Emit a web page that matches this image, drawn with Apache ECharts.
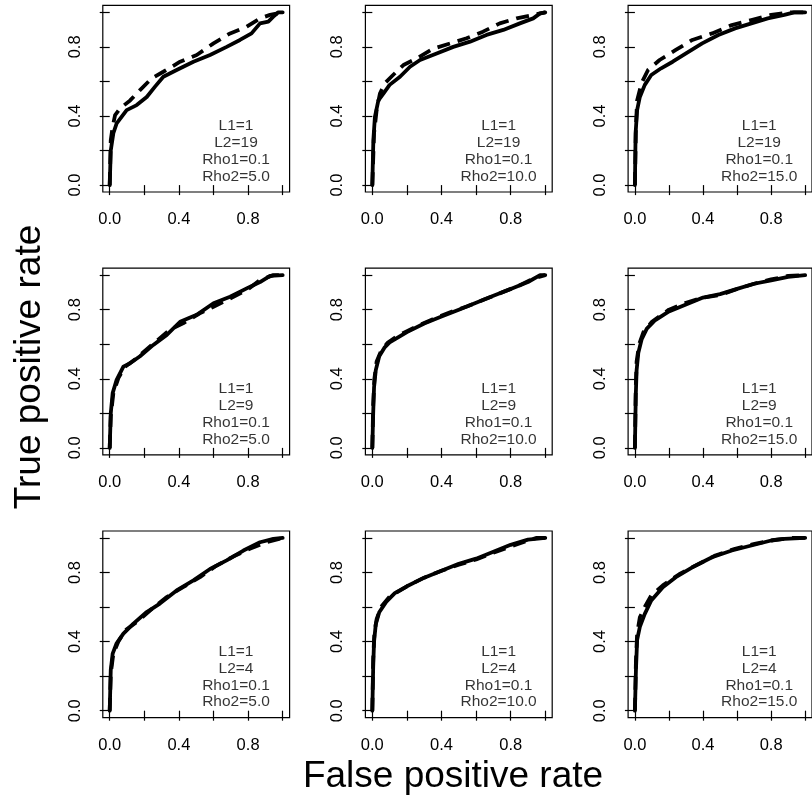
<!DOCTYPE html>
<html>
<head>
<meta charset="utf-8">
<script src="https://cdn.jsdelivr.net/npm/echarts@6/dist/echarts.min.js"></script>
<style>
html,body{margin:0;padding:0;background:#fff;}
#chart{width:812px;height:803px;}
</style>
</head>
<body>
<div id="chart"></div>
<script>
// ---------------- DATA ----------------
const xTitle = "False positive rate";
const yTitle = "True positive rate";
const tickValues = [0, 0.2, 0.4, 0.6, 0.8, 1.0];
const tickLabels = [0, 0.4, 0.8];
const rowL2 = ["19", "9", "4"];
const colRho2 = ["5.0", "10.0", "15.0"];
const L1 = "1";
const Rho1 = "0.1";

// ROC curves [fpr, tpr], row-major panels (row1: L2=19, row2: L2=9, row3: L2=4)
const p1Solid = [[0,0],[0.006,0.2],[0.021,0.3],[0.04,0.357],[0.098,0.434],[0.156,0.463],[0.214,0.51],[0.262,0.57],[0.31,0.627],[0.387,0.666],[0.484,0.714],[0.58,0.753],[0.676,0.8],[0.753,0.84],[0.82,0.878],[0.869,0.936],[0.917,0.946],[0.946,0.975],[0.975,1],[1,1]];
const p1Dashed = [[0,0],[0.006,0.26],[0.017,0.338],[0.031,0.405],[0.06,0.444],[0.118,0.49],[0.175,0.55],[0.243,0.618],[0.31,0.656],[0.407,0.714],[0.503,0.753],[0.6,0.82],[0.696,0.878],[0.792,0.917],[0.869,0.965],[0.927,0.985],[1,1]];
const p2Solid = [[0,0],[0.006,0.26],[0.015,0.395],[0.035,0.49],[0.064,0.53],[0.1,0.58],[0.16,0.627],[0.218,0.685],[0.276,0.724],[0.372,0.762],[0.468,0.8],[0.565,0.83],[0.66,0.869],[0.757,0.898],[0.853,0.936],[0.93,0.965],[0.97,0.994],[1,1]];
const p2Dashed = [[0,0],[0.01,0.3],[0.025,0.434],[0.044,0.53],[0.073,0.59],[0.12,0.637],[0.18,0.695],[0.256,0.733],[0.353,0.79],[0.45,0.82],[0.545,0.85],[0.64,0.888],[0.737,0.936],[0.834,0.965],[0.93,0.985],[1,1]];
const p3Solid = [[0,0],[0.004,0.3],[0.013,0.434],[0.029,0.51],[0.058,0.58],[0.096,0.637],[0.154,0.676],[0.222,0.714],[0.3,0.762],[0.395,0.82],[0.49,0.869],[0.588,0.907],[0.684,0.936],[0.78,0.965],[0.877,0.985],[0.935,1],[1,1]];
const p3Dashed = [[0,0],[0.006,0.338],[0.013,0.49],[0.039,0.59],[0.077,0.666],[0.145,0.724],[0.24,0.782],[0.337,0.84],[0.453,0.878],[0.569,0.926],[0.684,0.955],[0.8,0.985],[0.915,1],[1,1]];
const p4Solid = [[0,0],[0.006,0.2],[0.017,0.317],[0.04,0.394],[0.079,0.47],[0.118,0.49],[0.175,0.53],[0.252,0.596],[0.33,0.654],[0.407,0.73],[0.503,0.77],[0.6,0.837],[0.696,0.875],[0.792,0.923],[0.869,0.96],[0.927,0.996],[1,1]];
const p4Dashed = [[0,0],[0.006,0.183],[0.021,0.317],[0.05,0.404],[0.089,0.47],[0.156,0.52],[0.233,0.587],[0.347,0.683],[0.424,0.721],[0.52,0.779],[0.6,0.817],[0.696,0.865],[0.792,0.913],[0.869,0.971],[0.946,1],[1,1]];
const p5Solid = [[0,0],[0.005,0.2],[0.01,0.35],[0.02,0.45],[0.04,0.53],[0.07,0.58],[0.1,0.61],[0.2,0.67],[0.3,0.72],[0.4,0.76],[0.5,0.8],[0.6,0.84],[0.7,0.88],[0.8,0.92],[0.9,0.96],[0.97,1],[1,1]];
const p5Dashed = [[0,0],[0.005,0.25],[0.012,0.4],[0.025,0.5],[0.05,0.56],[0.09,0.61],[0.15,0.65],[0.25,0.7],[0.35,0.745],[0.45,0.785],[0.55,0.82],[0.65,0.86],[0.75,0.9],[0.85,0.94],[0.93,0.98],[1,1]];
const p6Solid = [[0,0],[0.005,0.3],[0.01,0.45],[0.02,0.55],[0.04,0.63],[0.07,0.69],[0.12,0.74],[0.2,0.79],[0.3,0.83],[0.4,0.87],[0.5,0.89],[0.6,0.92],[0.7,0.95],[0.8,0.97],[0.9,0.99],[1,1]];
const p6Dashed = [[0,0],[0.005,0.35],[0.01,0.5],[0.025,0.6],[0.05,0.67],[0.1,0.73],[0.2,0.8],[0.3,0.84],[0.4,0.87],[0.5,0.885],[0.6,0.92],[0.7,0.95],[0.8,0.975],[0.9,0.995],[1,1]];
const p7Solid = [[0,0],[0.006,0.235],[0.017,0.33],[0.04,0.39],[0.079,0.446],[0.137,0.504],[0.214,0.571],[0.29,0.62],[0.387,0.696],[0.484,0.754],[0.58,0.82],[0.676,0.87],[0.773,0.927],[0.869,0.975],[0.946,0.994],[1,1]];
const p7Dashed = [[0,0],[0.006,0.215],[0.021,0.33],[0.05,0.4],[0.089,0.465],[0.156,0.513],[0.233,0.58],[0.33,0.658],[0.424,0.715],[0.522,0.773],[0.618,0.84],[0.714,0.892],[0.81,0.937],[0.906,0.975],[1,1]];
const p8Solid = [[0,0],[0.005,0.25],[0.01,0.4],[0.02,0.5],[0.04,0.57],[0.08,0.63],[0.13,0.68],[0.2,0.72],[0.3,0.77],[0.4,0.81],[0.5,0.85],[0.6,0.88],[0.7,0.92],[0.8,0.96],[0.9,0.99],[1,1]];
const p8Dashed = [[0,0],[0.005,0.3],[0.012,0.45],[0.025,0.53],[0.05,0.6],[0.1,0.66],[0.2,0.72],[0.3,0.77],[0.4,0.81],[0.5,0.845],[0.6,0.875],[0.7,0.915],[0.8,0.95],[0.9,0.985],[0.95,1],[1,1]];
const p9Solid = [[0,0],[0.006,0.235],[0.013,0.41],[0.029,0.485],[0.058,0.56],[0.096,0.638],[0.164,0.715],[0.24,0.773],[0.337,0.83],[0.453,0.888],[0.569,0.927],[0.684,0.956],[0.8,0.985],[0.877,0.994],[1,1]];
const p9Dashed = [[0,0],[0.006,0.29],[0.013,0.446],[0.029,0.54],[0.058,0.6],[0.096,0.667],[0.164,0.725],[0.26,0.79],[0.356,0.84],[0.472,0.898],[0.588,0.937],[0.703,0.965],[0.819,0.988],[0.915,1],[1,1]];

const solidCurves = [p1Solid, p2Solid, p3Solid, p4Solid, p5Solid, p6Solid, p7Solid, p8Solid, p9Solid];
const dashedCurves = [p1Dashed, p2Dashed, p3Dashed, p4Dashed, p5Dashed, p6Dashed, p7Dashed, p8Dashed, p9Dashed];

// ---------------- LAYOUT ----------------
const FONT = "'Liberation Sans', Arial, Helvetica, sans-serif";
const COL_LEFT = [102.8, 365.4, 628.1];
const ROW_TOP = [5.4, 268.2, 531.0];
const BOX_W = 186.8, BOX_H = 186.6;
const PAD = 0.04; // R default axis extension
const ANNOT_POS = [0.73, 0.195];

const grids = [], xAxes = [], yAxes = [], series = [];
let k = 0;
for (let r = 0; r < 3; r++) {
  for (let c = 0; c < 3; c++) {
    grids.push({
      left: COL_LEFT[c], top: ROW_TOP[r], width: BOX_W, height: BOX_H,
      show: true, borderColor: '#000', borderWidth: 1.2, backgroundColor: 'transparent',
      containLabel: false
    });
    const axisCommon = {
      type: 'value', min: -PAD, max: 1 + PAD, gridIndex: k,
      axisLine: { show: false },
      splitLine: { show: false },
      axisTick: { show: true, inside: false, length: 10, customValues: tickValues,
                  lineStyle: { color: '#000', width: 1.2 } },
      axisLabel: { show: true, customValues: tickLabels, margin: 19,
                   color: '#000', fontSize: 16.5, fontFamily: FONT,
                   formatter: v => Number(v).toFixed(1) }
    };
    xAxes.push(Object.assign({}, axisCommon, { position: 'bottom' }));
    yAxes.push(Object.assign({}, axisCommon, {
      position: 'left',
      axisLabel: Object.assign({}, axisCommon.axisLabel, { rotate: 90 })
    }));
    series.push({
      type: 'line', xAxisIndex: k, yAxisIndex: k, data: solidCurves[k],
      showSymbol: false, symbol: 'none', smooth: false, animation: false,
      lineStyle: { color: '#000', width: 3.8, type: 'solid', cap: 'round', join: 'round' },
      z: 3
    });
    series.push({
      type: 'line', xAxisIndex: k, yAxisIndex: k, data: dashedCurves[k],
      showSymbol: false, symbol: 'none', smooth: false, animation: false,
      lineStyle: { color: '#000', width: 3.8, type: [13, 8], cap: 'butt', join: 'round' },
      z: 4
    });
    series.push({
      type: 'scatter', xAxisIndex: k, yAxisIndex: k, data: [ANNOT_POS],
      symbolSize: 1, itemStyle: { color: 'rgba(0,0,0,0)' }, silent: true, animation: false,
      label: {
        show: true, position: 'inside', color: '#000', fontSize: 15.5, fontFamily: FONT,
        lineHeight: 16.8, align: 'center', verticalAlign: 'middle',
        formatter: () => ['L1=' + L1, 'L2=' + rowL2[r], 'Rho1=' + Rho1, 'Rho2=' + colRho2[c]].join('\n')
      },
      z: 5
    });
    k++;
  }
}

const chart = echarts.init(document.getElementById('chart'), null, { renderer: 'canvas' });
chart.setOption({
  backgroundColor: '#fff',
  animation: false,
  grid: grids,
  xAxis: xAxes,
  yAxis: yAxes,
  series: series,
  graphic: [
    { type: 'text', position: [453, 777], style: {
        text: xTitle, fontSize: 37, fontFamily: FONT, fill: '#000',
        textAlign: 'center', textVerticalAlign: 'middle' } },
    { type: 'text', position: [30, 367], rotation: Math.PI / 2, style: {
        text: yTitle, fontSize: 37, fontFamily: FONT, fill: '#000',
        textAlign: 'center', textVerticalAlign: 'middle' } }
  ]
});
</script>
</body>
</html>
